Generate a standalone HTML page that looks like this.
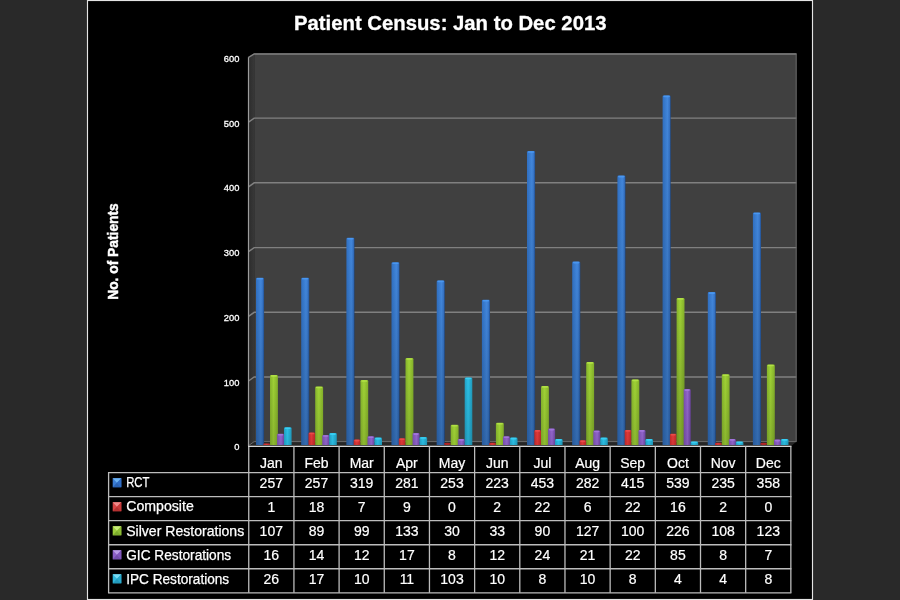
<!DOCTYPE html>
<html lang="en"><head><meta charset="utf-8"><title>Patient Census: Jan to Dec 2013</title>
<style>
html,body{margin:0;padding:0;background:#292929;}
body{width:900px;height:600px;overflow:hidden;font-family:"Liberation Sans",sans-serif;}
svg{display:block;}
text{font-family:"Liberation Sans",sans-serif;fill:#fff;}
.t{font-size:14px;text-anchor:middle;stroke:#fff;stroke-width:.2;}
.l{font-size:14px;stroke:#fff;stroke-width:.25;}
.y{font-size:9.6px;text-anchor:end;stroke:#fff;stroke-width:.3;}
.g{stroke:#808080;stroke-width:1.45;fill:none;}
.tl{stroke:#bcbcbc;stroke-width:1.3;fill:none;}
</style></head><body>
<svg width="900" height="600" viewBox="0 0 900 600">
<defs>
<linearGradient id="b" x1="0" x2="1" y1="0" y2="0"><stop offset="0" stop-color="#3070c2"/><stop offset=".6" stop-color="#4287dc"/><stop offset=".85" stop-color="#3674c6"/><stop offset="1" stop-color="#1f4c8c"/></linearGradient>
<linearGradient id="r" x1="0" x2="1" y1="0" y2="0"><stop offset="0" stop-color="#c02a2a"/><stop offset=".45" stop-color="#e23a3a"/><stop offset="1" stop-color="#b82828"/></linearGradient>
<linearGradient id="g" x1="0" x2="1" y1="0" y2="0"><stop offset="0" stop-color="#86b42c"/><stop offset=".45" stop-color="#a0d236"/><stop offset="1" stop-color="#84b02a"/></linearGradient>
<linearGradient id="p" x1="0" x2="1" y1="0" y2="0"><stop offset="0" stop-color="#7a4eb0"/><stop offset=".55" stop-color="#9266cc"/><stop offset="1" stop-color="#6c44a0"/></linearGradient>
<linearGradient id="c" x1="0" x2="1" y1="0" y2="0"><stop offset="0" stop-color="#22a0c4"/><stop offset=".45" stop-color="#2cc0e6"/><stop offset="1" stop-color="#209abc"/></linearGradient>
<linearGradient id="sh" x1="0" x2="0" y1="0" y2="1"><stop offset="0" stop-color="#000" stop-opacity="0"/><stop offset="1" stop-color="#000" stop-opacity="1"/></linearGradient>
<linearGradient id="sw" x1="0" x2="1" y1="0" y2="0"><stop offset="0" stop-color="#2c2c2c"/><stop offset="1" stop-color="#383838"/></linearGradient>
</defs>
<rect x="0" y="0" width="900" height="600" fill="#292929"/>
<rect x="87.5" y="0.5" width="725" height="599" fill="#000" stroke="#e4e4e4" stroke-width="1.15"/>

<text x="294" y="30.1" font-size="20.6" font-weight="bold" stroke="#fff" stroke-width=".3" textLength="312.5" lengthAdjust="spacingAndGlyphs">Patient Census: Jan to Dec 2013</text>
<text transform="translate(117.5,299.8) rotate(-90)" font-size="14" font-weight="bold" stroke="#fff" stroke-width=".45" textLength="96.6" lengthAdjust="spacingAndGlyphs">No. of Patients</text>
<polygon points="248.5,57.3 254.2,53.3 254.2,441.7 248.5,445.7" fill="url(#sw)"/>
<rect x="254.2" y="53.3" width="542.2" height="388.4" fill="#404040"/>
<polygon points="248.5,446.3 254.2,441.7 796.4,441.7 790.8,446.3" fill="#262626"/>
<path class="g" d="M248.5,57.4 L254.2,53.9 L796.4,53.9"/>
<path class="g" d="M248.5,122.1 L254.2,118.1 L796.4,118.1"/>
<path class="g" d="M248.5,186.8 L254.2,182.8 L796.4,182.8"/>
<path class="g" d="M248.5,251.6 L254.2,247.6 L796.4,247.6"/>
<path class="g" d="M248.5,316.3 L254.2,312.3 L796.4,312.3"/>
<path class="g" d="M248.5,381.0 L254.2,377.0 L796.4,377.0"/>
<path d="M248.5,445.7 L254.2,441.6 L796.4,441.6" stroke="#6c6c6c" stroke-width="1" fill="none"/>
<path d="M796.2,53.6 L796.2,441.7" stroke="#6a6a6a" stroke-width="1" fill="none"/>
<text class="y" x="239.4" y="62.0" textLength="15.6" lengthAdjust="spacingAndGlyphs">600</text>
<text class="y" x="239.4" y="126.7" textLength="15.6" lengthAdjust="spacingAndGlyphs">500</text>
<text class="y" x="239.4" y="191.4" textLength="15.6" lengthAdjust="spacingAndGlyphs">400</text>
<text class="y" x="239.4" y="256.1" textLength="15.6" lengthAdjust="spacingAndGlyphs">300</text>
<text class="y" x="239.4" y="320.8" textLength="15.6" lengthAdjust="spacingAndGlyphs">200</text>
<text class="y" x="239.4" y="385.5" textLength="15.6" lengthAdjust="spacingAndGlyphs">100</text>
<text class="y" x="239.4" y="450.2" textLength="5.2" lengthAdjust="spacingAndGlyphs">0</text>
<path d="M256.0,444.9 L256.0,279.1 Q256.0,277.8 257.3,277.8 L262.8,277.8 Q264.1,277.8 264.1,279.1 L264.1,444.9 Z" fill="url(#b)"/>
<path d="M256.0,444.9 L256.0,279.1 Q256.0,277.8 257.3,277.8 L262.8,277.8 Q264.1,277.8 264.1,279.1 L264.1,444.9 Z" fill="url(#sh)" opacity="0.21"/>
<rect x="256.7" y="278.0" width="6.5" height="1.6" rx=".8" fill="#4c9cf6" opacity=".8"/>
<path d="M263.3,444.9 L263.3,444.2 Q263.3,443.5 264.0,443.5 L269.3,443.5 Q270.0,443.5 270.0,444.2 L270.0,444.9 Z" fill="url(#r)"/>
<path d="M263.3,444.9 L263.3,444.2 Q263.3,443.5 264.0,443.5 L269.3,443.5 Q270.0,443.5 270.0,444.2 L270.0,444.9 Z" fill="url(#sh)" opacity="0.04"/>
<path d="M270.0,444.9 L270.0,376.2 Q270.0,374.9 271.3,374.9 L276.6,374.9 Q277.9,374.9 277.9,376.2 L277.9,444.9 Z" fill="url(#g)"/>
<path d="M270.0,444.9 L270.0,376.2 Q270.0,374.9 271.3,374.9 L276.6,374.9 Q277.9,374.9 277.9,376.2 L277.9,444.9 Z" fill="url(#sh)" opacity="0.13"/>
<rect x="270.7" y="375.1" width="6.3" height="1.6" rx=".8" fill="#b6e64a" opacity=".8"/>
<path d="M277.1,444.9 L277.1,435.0 Q277.1,433.7 278.4,433.7 L282.8,433.7 Q284.1,433.7 284.1,435.0 L284.1,444.9 Z" fill="url(#p)"/>
<path d="M277.1,444.9 L277.1,435.0 Q277.1,433.7 278.4,433.7 L282.8,433.7 Q284.1,433.7 284.1,435.0 L284.1,444.9 Z" fill="url(#sh)" opacity="0.05"/>
<rect x="277.8" y="433.9" width="5.4" height="1.6" rx=".8" fill="#a87ae2" opacity=".8"/>
<path d="M284.0,444.9 L284.0,428.6 Q284.0,427.3 285.3,427.3 L290.3,427.3 Q291.6,427.3 291.6,428.6 L291.6,444.9 Z" fill="url(#c)"/>
<path d="M284.0,444.9 L284.0,428.6 Q284.0,427.3 285.3,427.3 L290.3,427.3 Q291.6,427.3 291.6,428.6 L291.6,444.9 Z" fill="url(#sh)" opacity="0.06"/>
<rect x="284.7" y="427.5" width="6.0" height="1.6" rx=".8" fill="#3cd4fa" opacity=".8"/>
<path d="M301.2,444.9 L301.2,279.1 Q301.2,277.8 302.5,277.8 L308.0,277.8 Q309.3,277.8 309.3,279.1 L309.3,444.9 Z" fill="url(#b)"/>
<path d="M301.2,444.9 L301.2,279.1 Q301.2,277.8 302.5,277.8 L308.0,277.8 Q309.3,277.8 309.3,279.1 L309.3,444.9 Z" fill="url(#sh)" opacity="0.21"/>
<rect x="301.9" y="278.0" width="6.5" height="1.6" rx=".8" fill="#4c9cf6" opacity=".8"/>
<path d="M308.5,444.9 L308.5,433.8 Q308.5,432.5 309.8,432.5 L313.9,432.5 Q315.2,432.5 315.2,433.8 L315.2,444.9 Z" fill="url(#r)"/>
<path d="M308.5,444.9 L308.5,433.8 Q308.5,432.5 309.8,432.5 L313.9,432.5 Q315.2,432.5 315.2,433.8 L315.2,444.9 Z" fill="url(#sh)" opacity="0.06"/>
<rect x="309.2" y="432.7" width="5.1" height="1.6" rx=".8" fill="#f05050" opacity=".8"/>
<path d="M315.2,444.9 L315.2,387.8 Q315.2,386.5 316.5,386.5 L321.8,386.5 Q323.1,386.5 323.1,387.8 L323.1,444.9 Z" fill="url(#g)"/>
<path d="M315.2,444.9 L315.2,387.8 Q315.2,386.5 316.5,386.5 L321.8,386.5 Q323.1,386.5 323.1,387.8 L323.1,444.9 Z" fill="url(#sh)" opacity="0.11"/>
<rect x="315.9" y="386.7" width="6.3" height="1.6" rx=".8" fill="#b6e64a" opacity=".8"/>
<path d="M322.3,444.9 L322.3,436.3 Q322.3,435.0 323.6,435.0 L328.0,435.0 Q329.3,435.0 329.3,436.3 L329.3,444.9 Z" fill="url(#p)"/>
<path d="M322.3,444.9 L322.3,436.3 Q322.3,435.0 323.6,435.0 L328.0,435.0 Q329.3,435.0 329.3,436.3 L329.3,444.9 Z" fill="url(#sh)" opacity="0.05"/>
<rect x="323.0" y="435.2" width="5.4" height="1.6" rx=".8" fill="#a87ae2" opacity=".8"/>
<path d="M329.2,444.9 L329.2,434.4 Q329.2,433.1 330.5,433.1 L335.5,433.1 Q336.8,433.1 336.8,434.4 L336.8,444.9 Z" fill="url(#c)"/>
<path d="M329.2,444.9 L329.2,434.4 Q329.2,433.1 330.5,433.1 L335.5,433.1 Q336.8,433.1 336.8,434.4 L336.8,444.9 Z" fill="url(#sh)" opacity="0.05"/>
<rect x="329.9" y="433.3" width="6.0" height="1.6" rx=".8" fill="#3cd4fa" opacity=".8"/>
<path d="M346.4,444.9 L346.4,239.0 Q346.4,237.7 347.7,237.7 L353.2,237.7 Q354.5,237.7 354.5,239.0 L354.5,444.9 Z" fill="url(#b)"/>
<path d="M346.4,444.9 L346.4,239.0 Q346.4,237.7 347.7,237.7 L353.2,237.7 Q354.5,237.7 354.5,239.0 L354.5,444.9 Z" fill="url(#sh)" opacity="0.21"/>
<rect x="347.1" y="237.9" width="6.5" height="1.6" rx=".8" fill="#4c9cf6" opacity=".8"/>
<path d="M353.7,444.9 L353.7,440.9 Q353.7,439.6 355.0,439.6 L359.1,439.6 Q360.4,439.6 360.4,440.9 L360.4,444.9 Z" fill="url(#r)"/>
<path d="M353.7,444.9 L353.7,440.9 Q353.7,439.6 355.0,439.6 L359.1,439.6 Q360.4,439.6 360.4,440.9 L360.4,444.9 Z" fill="url(#sh)" opacity="0.05"/>
<rect x="354.4" y="439.8" width="5.1" height="1.6" rx=".8" fill="#f05050" opacity=".8"/>
<path d="M360.4,444.9 L360.4,381.3 Q360.4,380.0 361.7,380.0 L366.9,380.0 Q368.2,380.0 368.2,381.3 L368.2,444.9 Z" fill="url(#g)"/>
<path d="M360.4,444.9 L360.4,381.3 Q360.4,380.0 361.7,380.0 L366.9,380.0 Q368.2,380.0 368.2,381.3 L368.2,444.9 Z" fill="url(#sh)" opacity="0.12"/>
<rect x="361.1" y="380.2" width="6.3" height="1.6" rx=".8" fill="#b6e64a" opacity=".8"/>
<path d="M367.5,444.9 L367.5,437.6 Q367.5,436.3 368.8,436.3 L373.2,436.3 Q374.5,436.3 374.5,437.6 L374.5,444.9 Z" fill="url(#p)"/>
<path d="M367.5,444.9 L367.5,437.6 Q367.5,436.3 368.8,436.3 L373.2,436.3 Q374.5,436.3 374.5,437.6 L374.5,444.9 Z" fill="url(#sh)" opacity="0.05"/>
<rect x="368.2" y="436.5" width="5.4" height="1.6" rx=".8" fill="#a87ae2" opacity=".8"/>
<path d="M374.4,444.9 L374.4,438.9 Q374.4,437.6 375.7,437.6 L380.7,437.6 Q382.0,437.6 382.0,438.9 L382.0,444.9 Z" fill="url(#c)"/>
<path d="M374.4,444.9 L374.4,438.9 Q374.4,437.6 375.7,437.6 L380.7,437.6 Q382.0,437.6 382.0,438.9 L382.0,444.9 Z" fill="url(#sh)" opacity="0.05"/>
<rect x="375.1" y="437.8" width="6.0" height="1.6" rx=".8" fill="#3cd4fa" opacity=".8"/>
<path d="M391.5,444.9 L391.5,263.6 Q391.5,262.3 392.8,262.3 L398.3,262.3 Q399.6,262.3 399.6,263.6 L399.6,444.9 Z" fill="url(#b)"/>
<path d="M391.5,444.9 L391.5,263.6 Q391.5,262.3 392.8,262.3 L398.3,262.3 Q399.6,262.3 399.6,263.6 L399.6,444.9 Z" fill="url(#sh)" opacity="0.21"/>
<rect x="392.2" y="262.5" width="6.5" height="1.6" rx=".8" fill="#4c9cf6" opacity=".8"/>
<path d="M398.8,444.9 L398.8,439.6 Q398.8,438.3 400.1,438.3 L404.2,438.3 Q405.5,438.3 405.5,439.6 L405.5,444.9 Z" fill="url(#r)"/>
<path d="M398.8,444.9 L398.8,439.6 Q398.8,438.3 400.1,438.3 L404.2,438.3 Q405.5,438.3 405.5,439.6 L405.5,444.9 Z" fill="url(#sh)" opacity="0.05"/>
<rect x="399.5" y="438.5" width="5.1" height="1.6" rx=".8" fill="#f05050" opacity=".8"/>
<path d="M405.5,444.9 L405.5,359.3 Q405.5,358.0 406.8,358.0 L412.1,358.0 Q413.4,358.0 413.4,359.3 L413.4,444.9 Z" fill="url(#g)"/>
<path d="M405.5,444.9 L405.5,359.3 Q405.5,358.0 406.8,358.0 L412.1,358.0 Q413.4,358.0 413.4,359.3 L413.4,444.9 Z" fill="url(#sh)" opacity="0.15"/>
<rect x="406.2" y="358.2" width="6.3" height="1.6" rx=".8" fill="#b6e64a" opacity=".8"/>
<path d="M412.6,444.9 L412.6,434.4 Q412.6,433.1 413.9,433.1 L418.3,433.1 Q419.6,433.1 419.6,434.4 L419.6,444.9 Z" fill="url(#p)"/>
<path d="M412.6,444.9 L412.6,434.4 Q412.6,433.1 413.9,433.1 L418.3,433.1 Q419.6,433.1 419.6,434.4 L419.6,444.9 Z" fill="url(#sh)" opacity="0.05"/>
<rect x="413.3" y="433.3" width="5.4" height="1.6" rx=".8" fill="#a87ae2" opacity=".8"/>
<path d="M419.5,444.9 L419.5,438.3 Q419.5,437.0 420.8,437.0 L425.8,437.0 Q427.1,437.0 427.1,438.3 L427.1,444.9 Z" fill="url(#c)"/>
<path d="M419.5,444.9 L419.5,438.3 Q419.5,437.0 420.8,437.0 L425.8,437.0 Q427.1,437.0 427.1,438.3 L427.1,444.9 Z" fill="url(#sh)" opacity="0.05"/>
<rect x="420.2" y="437.2" width="6.0" height="1.6" rx=".8" fill="#3cd4fa" opacity=".8"/>
<path d="M436.7,444.9 L436.7,281.7 Q436.7,280.4 438.0,280.4 L443.5,280.4 Q444.8,280.4 444.8,281.7 L444.8,444.9 Z" fill="url(#b)"/>
<path d="M436.7,444.9 L436.7,281.7 Q436.7,280.4 438.0,280.4 L443.5,280.4 Q444.8,280.4 444.8,281.7 L444.8,444.9 Z" fill="url(#sh)" opacity="0.21"/>
<rect x="437.4" y="280.6" width="6.5" height="1.6" rx=".8" fill="#4c9cf6" opacity=".8"/>
<ellipse cx="447.4" cy="443.9" rx="3.4" ry="1.1" fill="#b02626"/>
<path d="M450.7,444.9 L450.7,426.0 Q450.7,424.7 452.0,424.7 L457.3,424.7 Q458.6,424.7 458.6,426.0 L458.6,444.9 Z" fill="url(#g)"/>
<path d="M450.7,444.9 L450.7,426.0 Q450.7,424.7 452.0,424.7 L457.3,424.7 Q458.6,424.7 458.6,426.0 L458.6,444.9 Z" fill="url(#sh)" opacity="0.06"/>
<rect x="451.4" y="424.9" width="6.3" height="1.6" rx=".8" fill="#b6e64a" opacity=".8"/>
<path d="M457.8,444.9 L457.8,440.2 Q457.8,438.9 459.1,438.9 L463.5,438.9 Q464.8,438.9 464.8,440.2 L464.8,444.9 Z" fill="url(#p)"/>
<path d="M457.8,444.9 L457.8,440.2 Q457.8,438.9 459.1,438.9 L463.5,438.9 Q464.8,438.9 464.8,440.2 L464.8,444.9 Z" fill="url(#sh)" opacity="0.05"/>
<rect x="458.5" y="439.1" width="5.4" height="1.6" rx=".8" fill="#a87ae2" opacity=".8"/>
<path d="M464.7,444.9 L464.7,378.8 Q464.7,377.5 466.0,377.5 L471.0,377.5 Q472.3,377.5 472.3,378.8 L472.3,444.9 Z" fill="url(#c)"/>
<path d="M464.7,444.9 L464.7,378.8 Q464.7,377.5 466.0,377.5 L471.0,377.5 Q472.3,377.5 472.3,378.8 L472.3,444.9 Z" fill="url(#sh)" opacity="0.12"/>
<rect x="465.4" y="377.7" width="6.0" height="1.6" rx=".8" fill="#3cd4fa" opacity=".8"/>
<path d="M481.9,444.9 L481.9,301.1 Q481.9,299.8 483.2,299.8 L488.7,299.8 Q490.0,299.8 490.0,301.1 L490.0,444.9 Z" fill="url(#b)"/>
<path d="M481.9,444.9 L481.9,301.1 Q481.9,299.8 483.2,299.8 L488.7,299.8 Q490.0,299.8 490.0,301.1 L490.0,444.9 Z" fill="url(#sh)" opacity="0.21"/>
<rect x="482.6" y="300.0" width="6.5" height="1.6" rx=".8" fill="#4c9cf6" opacity=".8"/>
<path d="M489.2,444.9 L489.2,443.9 Q489.2,442.8 490.2,442.8 L494.8,442.8 Q495.9,442.8 495.9,443.9 L495.9,444.9 Z" fill="url(#r)"/>
<path d="M489.2,444.9 L489.2,443.9 Q489.2,442.8 490.2,442.8 L494.8,442.8 Q495.9,442.8 495.9,443.9 L495.9,444.9 Z" fill="url(#sh)" opacity="0.04"/>
<path d="M495.9,444.9 L495.9,424.0 Q495.9,422.7 497.2,422.7 L502.5,422.7 Q503.8,422.7 503.8,424.0 L503.8,444.9 Z" fill="url(#g)"/>
<path d="M495.9,444.9 L495.9,424.0 Q495.9,422.7 497.2,422.7 L502.5,422.7 Q503.8,422.7 503.8,424.0 L503.8,444.9 Z" fill="url(#sh)" opacity="0.07"/>
<rect x="496.6" y="422.9" width="6.3" height="1.6" rx=".8" fill="#b6e64a" opacity=".8"/>
<path d="M503.0,444.9 L503.0,437.6 Q503.0,436.3 504.3,436.3 L508.7,436.3 Q510.0,436.3 510.0,437.6 L510.0,444.9 Z" fill="url(#p)"/>
<path d="M503.0,444.9 L503.0,437.6 Q503.0,436.3 504.3,436.3 L508.7,436.3 Q510.0,436.3 510.0,437.6 L510.0,444.9 Z" fill="url(#sh)" opacity="0.05"/>
<rect x="503.7" y="436.5" width="5.4" height="1.6" rx=".8" fill="#a87ae2" opacity=".8"/>
<path d="M509.9,444.9 L509.9,438.9 Q509.9,437.6 511.2,437.6 L516.2,437.6 Q517.5,437.6 517.5,438.9 L517.5,444.9 Z" fill="url(#c)"/>
<path d="M509.9,444.9 L509.9,438.9 Q509.9,437.6 511.2,437.6 L516.2,437.6 Q517.5,437.6 517.5,438.9 L517.5,444.9 Z" fill="url(#sh)" opacity="0.05"/>
<rect x="510.6" y="437.8" width="6.0" height="1.6" rx=".8" fill="#3cd4fa" opacity=".8"/>
<path d="M527.0,444.9 L527.0,152.3 Q527.0,151.0 528.3,151.0 L533.9,151.0 Q535.1,151.0 535.1,152.3 L535.1,444.9 Z" fill="url(#b)"/>
<path d="M527.0,444.9 L527.0,152.3 Q527.0,151.0 528.3,151.0 L533.9,151.0 Q535.1,151.0 535.1,152.3 L535.1,444.9 Z" fill="url(#sh)" opacity="0.21"/>
<rect x="527.8" y="151.2" width="6.5" height="1.6" rx=".8" fill="#4c9cf6" opacity=".8"/>
<path d="M534.3,444.9 L534.3,431.2 Q534.3,429.9 535.6,429.9 L539.8,429.9 Q541.0,429.9 541.0,431.2 L541.0,444.9 Z" fill="url(#r)"/>
<path d="M534.3,444.9 L534.3,431.2 Q534.3,429.9 535.6,429.9 L539.8,429.9 Q541.0,429.9 541.0,431.2 L541.0,444.9 Z" fill="url(#sh)" opacity="0.06"/>
<rect x="535.0" y="430.1" width="5.1" height="1.6" rx=".8" fill="#f05050" opacity=".8"/>
<path d="M541.0,444.9 L541.0,387.2 Q541.0,385.9 542.3,385.9 L547.6,385.9 Q548.9,385.9 548.9,387.2 L548.9,444.9 Z" fill="url(#g)"/>
<path d="M541.0,444.9 L541.0,387.2 Q541.0,385.9 542.3,385.9 L547.6,385.9 Q548.9,385.9 548.9,387.2 L548.9,444.9 Z" fill="url(#sh)" opacity="0.11"/>
<rect x="541.8" y="386.1" width="6.3" height="1.6" rx=".8" fill="#b6e64a" opacity=".8"/>
<path d="M548.1,444.9 L548.1,429.9 Q548.1,428.6 549.4,428.6 L553.9,428.6 Q555.1,428.6 555.1,429.9 L555.1,444.9 Z" fill="url(#p)"/>
<path d="M548.1,444.9 L548.1,429.9 Q548.1,428.6 549.4,428.6 L553.9,428.6 Q555.1,428.6 555.1,429.9 L555.1,444.9 Z" fill="url(#sh)" opacity="0.06"/>
<rect x="548.9" y="428.8" width="5.4" height="1.6" rx=".8" fill="#a87ae2" opacity=".8"/>
<path d="M555.0,444.9 L555.0,440.2 Q555.0,438.9 556.3,438.9 L561.4,438.9 Q562.6,438.9 562.6,440.2 L562.6,444.9 Z" fill="url(#c)"/>
<path d="M555.0,444.9 L555.0,440.2 Q555.0,438.9 556.3,438.9 L561.4,438.9 Q562.6,438.9 562.6,440.2 L562.6,444.9 Z" fill="url(#sh)" opacity="0.05"/>
<rect x="555.8" y="439.1" width="6.0" height="1.6" rx=".8" fill="#3cd4fa" opacity=".8"/>
<path d="M572.2,444.9 L572.2,262.9 Q572.2,261.6 573.5,261.6 L579.0,261.6 Q580.3,261.6 580.3,262.9 L580.3,444.9 Z" fill="url(#b)"/>
<path d="M572.2,444.9 L572.2,262.9 Q572.2,261.6 573.5,261.6 L579.0,261.6 Q580.3,261.6 580.3,262.9 L580.3,444.9 Z" fill="url(#sh)" opacity="0.21"/>
<rect x="572.9" y="261.8" width="6.5" height="1.6" rx=".8" fill="#4c9cf6" opacity=".8"/>
<path d="M579.5,444.9 L579.5,441.5 Q579.5,440.2 580.8,440.2 L584.9,440.2 Q586.2,440.2 586.2,441.5 L586.2,444.9 Z" fill="url(#r)"/>
<path d="M579.5,444.9 L579.5,441.5 Q579.5,440.2 580.8,440.2 L584.9,440.2 Q586.2,440.2 586.2,441.5 L586.2,444.9 Z" fill="url(#sh)" opacity="0.05"/>
<rect x="580.2" y="440.4" width="5.1" height="1.6" rx=".8" fill="#f05050" opacity=".8"/>
<path d="M586.2,444.9 L586.2,363.2 Q586.2,361.9 587.5,361.9 L592.8,361.9 Q594.1,361.9 594.1,363.2 L594.1,444.9 Z" fill="url(#g)"/>
<path d="M586.2,444.9 L586.2,363.2 Q586.2,361.9 587.5,361.9 L592.8,361.9 Q594.1,361.9 594.1,363.2 L594.1,444.9 Z" fill="url(#sh)" opacity="0.14"/>
<rect x="586.9" y="362.1" width="6.3" height="1.6" rx=".8" fill="#b6e64a" opacity=".8"/>
<path d="M593.3,444.9 L593.3,431.8 Q593.3,430.5 594.6,430.5 L599.0,430.5 Q600.3,430.5 600.3,431.8 L600.3,444.9 Z" fill="url(#p)"/>
<path d="M593.3,444.9 L593.3,431.8 Q593.3,430.5 594.6,430.5 L599.0,430.5 Q600.3,430.5 600.3,431.8 L600.3,444.9 Z" fill="url(#sh)" opacity="0.06"/>
<rect x="594.0" y="430.7" width="5.4" height="1.6" rx=".8" fill="#a87ae2" opacity=".8"/>
<path d="M600.2,444.9 L600.2,438.9 Q600.2,437.6 601.5,437.6 L606.5,437.6 Q607.8,437.6 607.8,438.9 L607.8,444.9 Z" fill="url(#c)"/>
<path d="M600.2,444.9 L600.2,438.9 Q600.2,437.6 601.5,437.6 L606.5,437.6 Q607.8,437.6 607.8,438.9 L607.8,444.9 Z" fill="url(#sh)" opacity="0.05"/>
<rect x="600.9" y="437.8" width="6.0" height="1.6" rx=".8" fill="#3cd4fa" opacity=".8"/>
<path d="M617.4,444.9 L617.4,176.9 Q617.4,175.6 618.7,175.6 L624.2,175.6 Q625.5,175.6 625.5,176.9 L625.5,444.9 Z" fill="url(#b)"/>
<path d="M617.4,444.9 L617.4,176.9 Q617.4,175.6 618.7,175.6 L624.2,175.6 Q625.5,175.6 625.5,176.9 L625.5,444.9 Z" fill="url(#sh)" opacity="0.21"/>
<rect x="618.1" y="175.8" width="6.5" height="1.6" rx=".8" fill="#4c9cf6" opacity=".8"/>
<path d="M624.7,444.9 L624.7,431.2 Q624.7,429.9 626.0,429.9 L630.1,429.9 Q631.4,429.9 631.4,431.2 L631.4,444.9 Z" fill="url(#r)"/>
<path d="M624.7,444.9 L624.7,431.2 Q624.7,429.9 626.0,429.9 L630.1,429.9 Q631.4,429.9 631.4,431.2 L631.4,444.9 Z" fill="url(#sh)" opacity="0.06"/>
<rect x="625.4" y="430.1" width="5.1" height="1.6" rx=".8" fill="#f05050" opacity=".8"/>
<path d="M631.4,444.9 L631.4,380.7 Q631.4,379.4 632.7,379.4 L638.0,379.4 Q639.3,379.4 639.3,380.7 L639.3,444.9 Z" fill="url(#g)"/>
<path d="M631.4,444.9 L631.4,380.7 Q631.4,379.4 632.7,379.4 L638.0,379.4 Q639.3,379.4 639.3,380.7 L639.3,444.9 Z" fill="url(#sh)" opacity="0.12"/>
<rect x="632.1" y="379.6" width="6.3" height="1.6" rx=".8" fill="#b6e64a" opacity=".8"/>
<path d="M638.5,444.9 L638.5,431.2 Q638.5,429.9 639.8,429.9 L644.2,429.9 Q645.5,429.9 645.5,431.2 L645.5,444.9 Z" fill="url(#p)"/>
<path d="M638.5,444.9 L638.5,431.2 Q638.5,429.9 639.8,429.9 L644.2,429.9 Q645.5,429.9 645.5,431.2 L645.5,444.9 Z" fill="url(#sh)" opacity="0.06"/>
<rect x="639.2" y="430.1" width="5.4" height="1.6" rx=".8" fill="#a87ae2" opacity=".8"/>
<path d="M645.4,444.9 L645.4,440.2 Q645.4,438.9 646.7,438.9 L651.7,438.9 Q653.0,438.9 653.0,440.2 L653.0,444.9 Z" fill="url(#c)"/>
<path d="M645.4,444.9 L645.4,440.2 Q645.4,438.9 646.7,438.9 L651.7,438.9 Q653.0,438.9 653.0,440.2 L653.0,444.9 Z" fill="url(#sh)" opacity="0.05"/>
<rect x="646.1" y="439.1" width="6.0" height="1.6" rx=".8" fill="#3cd4fa" opacity=".8"/>
<path d="M662.6,444.9 L662.6,96.7 Q662.6,95.4 663.9,95.4 L669.4,95.4 Q670.7,95.4 670.7,96.7 L670.7,444.9 Z" fill="url(#b)"/>
<path d="M662.6,444.9 L662.6,96.7 Q662.6,95.4 663.9,95.4 L669.4,95.4 Q670.7,95.4 670.7,96.7 L670.7,444.9 Z" fill="url(#sh)" opacity="0.21"/>
<rect x="663.3" y="95.6" width="6.5" height="1.6" rx=".8" fill="#4c9cf6" opacity=".8"/>
<path d="M669.9,444.9 L669.9,435.0 Q669.9,433.7 671.2,433.7 L675.3,433.7 Q676.6,433.7 676.6,435.0 L676.6,444.9 Z" fill="url(#r)"/>
<path d="M669.9,444.9 L669.9,435.0 Q669.9,433.7 671.2,433.7 L675.3,433.7 Q676.6,433.7 676.6,435.0 L676.6,444.9 Z" fill="url(#sh)" opacity="0.05"/>
<rect x="670.6" y="433.9" width="5.1" height="1.6" rx=".8" fill="#f05050" opacity=".8"/>
<path d="M676.6,444.9 L676.6,299.2 Q676.6,297.9 677.9,297.9 L683.2,297.9 Q684.5,297.9 684.5,299.2 L684.5,444.9 Z" fill="url(#g)"/>
<path d="M676.6,444.9 L676.6,299.2 Q676.6,297.9 677.9,297.9 L683.2,297.9 Q684.5,297.9 684.5,299.2 L684.5,444.9 Z" fill="url(#sh)" opacity="0.21"/>
<rect x="677.3" y="298.1" width="6.3" height="1.6" rx=".8" fill="#b6e64a" opacity=".8"/>
<path d="M683.7,444.9 L683.7,390.4 Q683.7,389.1 685.0,389.1 L689.4,389.1 Q690.7,389.1 690.7,390.4 L690.7,444.9 Z" fill="url(#p)"/>
<path d="M683.7,444.9 L683.7,390.4 Q683.7,389.1 685.0,389.1 L689.4,389.1 Q690.7,389.1 690.7,390.4 L690.7,444.9 Z" fill="url(#sh)" opacity="0.11"/>
<rect x="684.4" y="389.3" width="5.4" height="1.6" rx=".8" fill="#a87ae2" opacity=".8"/>
<path d="M690.6,444.9 L690.6,442.8 Q690.6,441.5 691.9,441.5 L696.9,441.5 Q698.2,441.5 698.2,442.8 L698.2,444.9 Z" fill="url(#c)"/>
<path d="M690.6,444.9 L690.6,442.8 Q690.6,441.5 691.9,441.5 L696.9,441.5 Q698.2,441.5 698.2,442.8 L698.2,444.9 Z" fill="url(#sh)" opacity="0.04"/>
<rect x="691.3" y="441.7" width="6.0" height="1.6" rx=".8" fill="#3cd4fa" opacity=".8"/>
<path d="M707.8,444.9 L707.8,293.4 Q707.8,292.1 709.0,292.1 L714.6,292.1 Q715.9,292.1 715.9,293.4 L715.9,444.9 Z" fill="url(#b)"/>
<path d="M707.8,444.9 L707.8,293.4 Q707.8,292.1 709.0,292.1 L714.6,292.1 Q715.9,292.1 715.9,293.4 L715.9,444.9 Z" fill="url(#sh)" opacity="0.21"/>
<rect x="708.5" y="292.3" width="6.5" height="1.6" rx=".8" fill="#4c9cf6" opacity=".8"/>
<path d="M715.0,444.9 L715.0,443.9 Q715.0,442.8 716.1,442.8 L720.7,442.8 Q721.8,442.8 721.8,443.9 L721.8,444.9 Z" fill="url(#r)"/>
<path d="M715.0,444.9 L715.0,443.9 Q715.0,442.8 716.1,442.8 L720.7,442.8 Q721.8,442.8 721.8,443.9 L721.8,444.9 Z" fill="url(#sh)" opacity="0.04"/>
<path d="M721.8,444.9 L721.8,375.5 Q721.8,374.2 723.0,374.2 L728.4,374.2 Q729.6,374.2 729.6,375.5 L729.6,444.9 Z" fill="url(#g)"/>
<path d="M721.8,444.9 L721.8,375.5 Q721.8,374.2 723.0,374.2 L728.4,374.2 Q729.6,374.2 729.6,375.5 L729.6,444.9 Z" fill="url(#sh)" opacity="0.13"/>
<rect x="722.5" y="374.4" width="6.3" height="1.6" rx=".8" fill="#b6e64a" opacity=".8"/>
<path d="M728.9,444.9 L728.9,440.2 Q728.9,438.9 730.1,438.9 L734.6,438.9 Q735.9,438.9 735.9,440.2 L735.9,444.9 Z" fill="url(#p)"/>
<path d="M728.9,444.9 L728.9,440.2 Q728.9,438.9 730.1,438.9 L734.6,438.9 Q735.9,438.9 735.9,440.2 L735.9,444.9 Z" fill="url(#sh)" opacity="0.05"/>
<rect x="729.6" y="439.1" width="5.4" height="1.6" rx=".8" fill="#a87ae2" opacity=".8"/>
<path d="M735.8,444.9 L735.8,442.8 Q735.8,441.5 737.0,441.5 L742.1,441.5 Q743.4,441.5 743.4,442.8 L743.4,444.9 Z" fill="url(#c)"/>
<path d="M735.8,444.9 L735.8,442.8 Q735.8,441.5 737.0,441.5 L742.1,441.5 Q743.4,441.5 743.4,442.8 L743.4,444.9 Z" fill="url(#sh)" opacity="0.04"/>
<rect x="736.5" y="441.7" width="6.0" height="1.6" rx=".8" fill="#3cd4fa" opacity=".8"/>
<path d="M752.9,444.9 L752.9,213.8 Q752.9,212.5 754.2,212.5 L759.7,212.5 Q761.0,212.5 761.0,213.8 L761.0,444.9 Z" fill="url(#b)"/>
<path d="M752.9,444.9 L752.9,213.8 Q752.9,212.5 754.2,212.5 L759.7,212.5 Q761.0,212.5 761.0,213.8 L761.0,444.9 Z" fill="url(#sh)" opacity="0.21"/>
<rect x="753.6" y="212.7" width="6.5" height="1.6" rx=".8" fill="#4c9cf6" opacity=".8"/>
<ellipse cx="763.6" cy="443.9" rx="3.4" ry="1.1" fill="#b02626"/>
<path d="M766.9,444.9 L766.9,365.8 Q766.9,364.5 768.2,364.5 L773.5,364.5 Q774.8,364.5 774.8,365.8 L774.8,444.9 Z" fill="url(#g)"/>
<path d="M766.9,444.9 L766.9,365.8 Q766.9,364.5 768.2,364.5 L773.5,364.5 Q774.8,364.5 774.8,365.8 L774.8,444.9 Z" fill="url(#sh)" opacity="0.14"/>
<rect x="767.6" y="364.7" width="6.3" height="1.6" rx=".8" fill="#b6e64a" opacity=".8"/>
<path d="M774.0,444.9 L774.0,440.9 Q774.0,439.6 775.3,439.6 L779.7,439.6 Q781.0,439.6 781.0,440.9 L781.0,444.9 Z" fill="url(#p)"/>
<path d="M774.0,444.9 L774.0,440.9 Q774.0,439.6 775.3,439.6 L779.7,439.6 Q781.0,439.6 781.0,440.9 L781.0,444.9 Z" fill="url(#sh)" opacity="0.05"/>
<rect x="774.7" y="439.8" width="5.4" height="1.6" rx=".8" fill="#a87ae2" opacity=".8"/>
<path d="M780.9,444.9 L780.9,440.2 Q780.9,438.9 782.2,438.9 L787.2,438.9 Q788.5,438.9 788.5,440.2 L788.5,444.9 Z" fill="url(#c)"/>
<path d="M780.9,444.9 L780.9,440.2 Q780.9,438.9 782.2,438.9 L787.2,438.9 Q788.5,438.9 788.5,440.2 L788.5,444.9 Z" fill="url(#sh)" opacity="0.05"/>
<rect x="781.6" y="439.1" width="6.0" height="1.6" rx=".8" fill="#3cd4fa" opacity=".8"/>
<path d="M248.5,57.3 L248.5,446.3" stroke="#9c9c9c" stroke-width="1.2" fill="none"/>
<path class="tl" d="M248.75,446.3 L248.75,472.6"/>
<path d="M248,446.3 L791.4,446.3" stroke="#d6d6d6" stroke-width="1.35" fill="none"/>
<path class="tl" d="M293.93,446.3 L293.93,592.8"/>
<path class="tl" d="M339.10,446.3 L339.10,592.8"/>
<path class="tl" d="M384.27,446.3 L384.27,592.8"/>
<path class="tl" d="M429.45,446.3 L429.45,592.8"/>
<path class="tl" d="M474.62,446.3 L474.62,592.8"/>
<path class="tl" d="M519.80,446.3 L519.80,592.8"/>
<path class="tl" d="M564.97,446.3 L564.97,592.8"/>
<path class="tl" d="M610.15,446.3 L610.15,592.8"/>
<path class="tl" d="M655.33,446.3 L655.33,592.8"/>
<path class="tl" d="M700.50,446.3 L700.50,592.8"/>
<path class="tl" d="M745.67,446.3 L745.67,592.8"/>
<path class="tl" d="M790.85,446.3 L790.85,592.8"/>
<path class="tl" d="M248.75,472.6 L248.75,592.8"/>
<path class="tl" d="M108.6,472 L108.6,593.4"/>
<path class="tl" d="M108.6,472.65 L791.4,472.65"/>
<path class="tl" d="M108.6,496.68 L791.4,496.68"/>
<path class="tl" d="M108.6,520.71 L791.4,520.71"/>
<path class="tl" d="M108.6,544.74 L791.4,544.74"/>
<path class="tl" d="M108.6,568.77 L791.4,568.77"/>
<path class="tl" d="M108.6,592.80 L791.4,592.80"/>
<text class="t" x="271.3" y="467.8">Jan</text>
<text class="t" x="316.5" y="467.8">Feb</text>
<text class="t" x="361.7" y="467.8">Mar</text>
<text class="t" x="406.9" y="467.8">Apr</text>
<text class="t" x="452.0" y="467.8">May</text>
<text class="t" x="497.2" y="467.8">Jun</text>
<text class="t" x="542.4" y="467.8">Jul</text>
<text class="t" x="587.6" y="467.8">Aug</text>
<text class="t" x="632.7" y="467.8">Sep</text>
<text class="t" x="677.9" y="467.8">Oct</text>
<text class="t" x="723.1" y="467.8">Nov</text>
<text class="t" x="768.3" y="467.8">Dec</text>
<rect x="112.7" y="478.2" width="8.6" height="9.0" fill="#3a7cd4"/>
<polygon points="112.7,478.2 121.3,478.2 117.0,482.7" fill="#6cb2f2"/>
<polygon points="112.7,487.2 121.3,487.2 117.0,482.7" fill="#2a62b4"/>
<polygon points="121.3,478.2 121.3,487.2 117.0,482.7" fill="#2f6cc4"/>
<text class="l" x="126.2" y="487.4" textLength="23.3" lengthAdjust="spacingAndGlyphs">RCT</text>
<text class="t" x="271.3" y="488.1" font-size="14.4">257</text>
<text class="t" x="316.5" y="488.1" font-size="14.4">257</text>
<text class="t" x="361.7" y="488.1" font-size="14.4">319</text>
<text class="t" x="406.9" y="488.1" font-size="14.4">281</text>
<text class="t" x="452.0" y="488.1" font-size="14.4">253</text>
<text class="t" x="497.2" y="488.1" font-size="14.4">223</text>
<text class="t" x="542.4" y="488.1" font-size="14.4">453</text>
<text class="t" x="587.6" y="488.1" font-size="14.4">282</text>
<text class="t" x="632.7" y="488.1" font-size="14.4">415</text>
<text class="t" x="677.9" y="488.1" font-size="14.4">539</text>
<text class="t" x="723.1" y="488.1" font-size="14.4">235</text>
<text class="t" x="768.3" y="488.1" font-size="14.4">358</text>
<rect x="112.7" y="502.2" width="8.6" height="9.0" fill="#d84444"/>
<polygon points="112.7,502.2 121.3,502.2 117.0,506.7" fill="#f08a8a"/>
<polygon points="112.7,511.2 121.3,511.2 117.0,506.7" fill="#b43030"/>
<polygon points="121.3,502.2 121.3,511.2 117.0,506.7" fill="#c83a3a"/>
<text class="l" x="126.2" y="511.4" textLength="67.6" lengthAdjust="spacingAndGlyphs">Composite</text>
<text class="t" x="271.3" y="512.1" font-size="14.4">1</text>
<text class="t" x="316.5" y="512.1" font-size="14.4">18</text>
<text class="t" x="361.7" y="512.1" font-size="14.4">7</text>
<text class="t" x="406.9" y="512.1" font-size="14.4">9</text>
<text class="t" x="452.0" y="512.1" font-size="14.4">0</text>
<text class="t" x="497.2" y="512.1" font-size="14.4">2</text>
<text class="t" x="542.4" y="512.1" font-size="14.4">22</text>
<text class="t" x="587.6" y="512.1" font-size="14.4">6</text>
<text class="t" x="632.7" y="512.1" font-size="14.4">22</text>
<text class="t" x="677.9" y="512.1" font-size="14.4">16</text>
<text class="t" x="723.1" y="512.1" font-size="14.4">2</text>
<text class="t" x="768.3" y="512.1" font-size="14.4">0</text>
<rect x="112.7" y="526.3" width="8.6" height="9.0" fill="#9ccc3c"/>
<polygon points="112.7,526.3 121.3,526.3 117.0,530.8" fill="#c8ec78"/>
<polygon points="112.7,535.3 121.3,535.3 117.0,530.8" fill="#7cac2c"/>
<polygon points="121.3,526.3 121.3,535.3 117.0,530.8" fill="#8cbc34"/>
<text class="l" x="126.2" y="535.5" textLength="118.0" lengthAdjust="spacingAndGlyphs">Silver Restorations</text>
<text class="t" x="271.3" y="536.2" font-size="14.4">107</text>
<text class="t" x="316.5" y="536.2" font-size="14.4">89</text>
<text class="t" x="361.7" y="536.2" font-size="14.4">99</text>
<text class="t" x="406.9" y="536.2" font-size="14.4">133</text>
<text class="t" x="452.0" y="536.2" font-size="14.4">30</text>
<text class="t" x="497.2" y="536.2" font-size="14.4">33</text>
<text class="t" x="542.4" y="536.2" font-size="14.4">90</text>
<text class="t" x="587.6" y="536.2" font-size="14.4">127</text>
<text class="t" x="632.7" y="536.2" font-size="14.4">100</text>
<text class="t" x="677.9" y="536.2" font-size="14.4">226</text>
<text class="t" x="723.1" y="536.2" font-size="14.4">108</text>
<text class="t" x="768.3" y="536.2" font-size="14.4">123</text>
<rect x="112.7" y="550.3" width="8.6" height="9.0" fill="#8c60c8"/>
<polygon points="112.7,550.3 121.3,550.3 117.0,554.8" fill="#b89ae6"/>
<polygon points="112.7,559.3 121.3,559.3 117.0,554.8" fill="#724cac"/>
<polygon points="121.3,550.3 121.3,559.3 117.0,554.8" fill="#8056bc"/>
<text class="l" x="126.2" y="559.5" textLength="105.0" lengthAdjust="spacingAndGlyphs">GIC Restorations</text>
<text class="t" x="271.3" y="560.2" font-size="14.4">16</text>
<text class="t" x="316.5" y="560.2" font-size="14.4">14</text>
<text class="t" x="361.7" y="560.2" font-size="14.4">12</text>
<text class="t" x="406.9" y="560.2" font-size="14.4">17</text>
<text class="t" x="452.0" y="560.2" font-size="14.4">8</text>
<text class="t" x="497.2" y="560.2" font-size="14.4">12</text>
<text class="t" x="542.4" y="560.2" font-size="14.4">24</text>
<text class="t" x="587.6" y="560.2" font-size="14.4">21</text>
<text class="t" x="632.7" y="560.2" font-size="14.4">22</text>
<text class="t" x="677.9" y="560.2" font-size="14.4">85</text>
<text class="t" x="723.1" y="560.2" font-size="14.4">8</text>
<text class="t" x="768.3" y="560.2" font-size="14.4">7</text>
<rect x="112.7" y="574.3" width="8.6" height="9.0" fill="#30b8dc"/>
<polygon points="112.7,574.3 121.3,574.3 117.0,578.8" fill="#7adcf4"/>
<polygon points="112.7,583.3 121.3,583.3 117.0,578.8" fill="#249abc"/>
<polygon points="121.3,574.3 121.3,583.3 117.0,578.8" fill="#2aaacc"/>
<text class="l" x="126.2" y="583.5" textLength="103.0" lengthAdjust="spacingAndGlyphs">IPC Restorations</text>
<text class="t" x="271.3" y="584.2" font-size="14.4">26</text>
<text class="t" x="316.5" y="584.2" font-size="14.4">17</text>
<text class="t" x="361.7" y="584.2" font-size="14.4">10</text>
<text class="t" x="406.9" y="584.2" font-size="14.4">11</text>
<text class="t" x="452.0" y="584.2" font-size="14.4">103</text>
<text class="t" x="497.2" y="584.2" font-size="14.4">10</text>
<text class="t" x="542.4" y="584.2" font-size="14.4">8</text>
<text class="t" x="587.6" y="584.2" font-size="14.4">10</text>
<text class="t" x="632.7" y="584.2" font-size="14.4">8</text>
<text class="t" x="677.9" y="584.2" font-size="14.4">4</text>
<text class="t" x="723.1" y="584.2" font-size="14.4">4</text>
<text class="t" x="768.3" y="584.2" font-size="14.4">8</text>
</svg></body></html>
